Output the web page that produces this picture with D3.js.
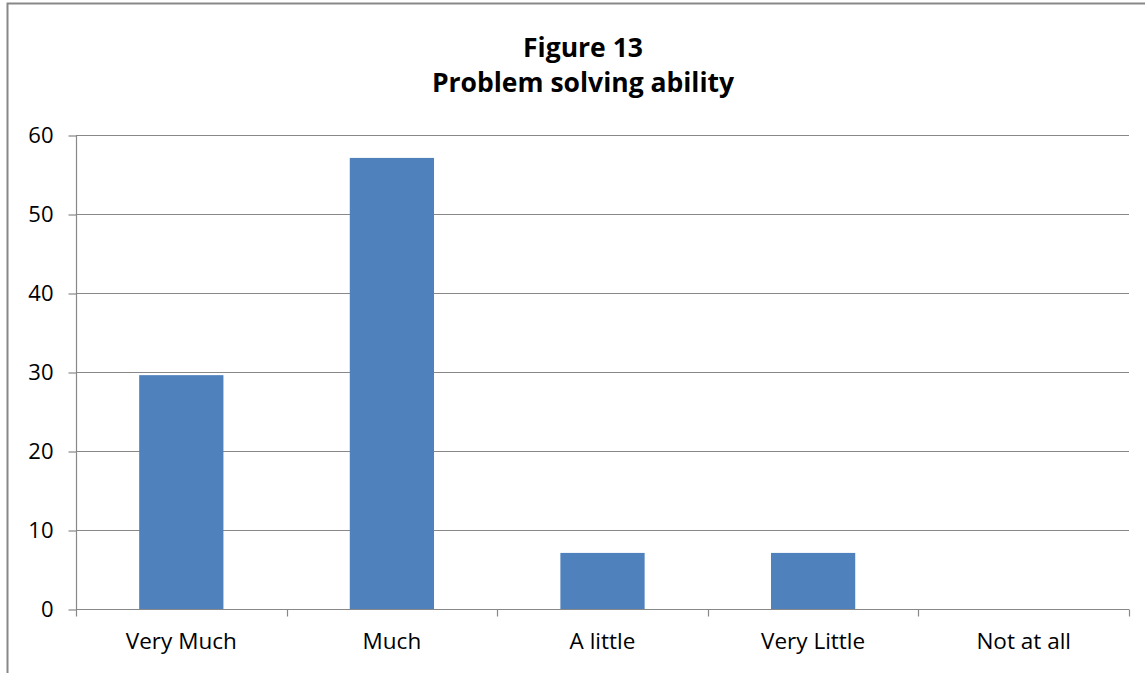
<!DOCTYPE html>
<html><head><meta charset="utf-8">
<script src="https://cdn.jsdelivr.net/npm/d3@7"></script>
<style>body{margin:0;background:#fff;} svg{display:block;}</style>
</head><body>
<svg id="c" width="1145" height="673"></svg>
<script>
const categories = ["Very Much", "Much", "A little", "Very Little", "Not at all"];
const values = [29.6, 57.1, 7.1, 7.1, 0];
const yTicks = [0, 10, 20, 30, 40, 50, 60];
const titleLines = ["Figure 13", "Problem solving ability"];

const svg = d3.select("#c");
const font = "'Open Sans', 'Liberation Sans', sans-serif";
const m = {left: 76, right: 1129, top: 135, bottom: 609};

// outer border
svg.append("path").attr("d", "M7.5,673 V3.5 H1145").attr("fill", "none").attr("stroke", "#888").attr("stroke-width", 2);

const x = d3.scaleBand().domain(categories).range([m.left, m.right]).padding(0);
const y = d3.scaleLinear().domain([0, 60]).range([m.bottom, m.top]);

// gridlines
svg.append("g").selectAll("line").data(yTicks.filter(d => d > 0)).join("line")
  .attr("x1", m.left).attr("x2", m.right)
  .attr("y1", d => Math.round(y(d)) + 0.5).attr("y2", d => Math.round(y(d)) + 0.5)
  .attr("stroke", "#888").attr("stroke-width", 1.2);

// bars
const bw = x.bandwidth() * 0.4;
svg.append("g").selectAll("rect").data(values).join("rect")
  .attr("x", (d, i) => x(categories[i]) + (x.bandwidth() - bw) / 2)
  .attr("width", bw)
  .attr("y", d => y(d))
  .attr("height", d => y(0) - y(d))
  .attr("fill", "#4F81BD");

// y axis
const ya = d3.axisLeft(y).tickValues(yTicks).tickSize(8).tickPadding(15);
const yg = svg.append("g").attr("transform", `translate(${m.left + 0.5},0.5)`).call(ya);
yg.selectAll("line, path").attr("stroke", "#888").attr("stroke-width", 1.2);
yg.selectAll("text").attr("font-family", font).attr("font-size", 22).attr("fill", "#000");
yg.select(".domain").attr("d", `M0,${m.top}V${m.bottom}`);

// x axis
const xa = d3.axisBottom(x).tickSize(0).tickPadding(24);
const xg = svg.append("g").attr("transform", `translate(0,${m.bottom + 0.5})`).call(xa);
xg.select(".domain").attr("d", `M${m.left},0H${m.right}`).attr("stroke", "#888").attr("stroke-width", 1.2);
xg.selectAll("text").attr("font-family", font).attr("font-size", 22.5).attr("fill", "#000");
// boundary tick marks
const bounds = categories.map(c => x(c)).concat([m.right]);
xg.selectAll("line.b").data(bounds).join("line").attr("class", "b")
  .attr("x1", d => Math.round(d) + 0.5).attr("x2", d => Math.round(d) + 0.5)
  .attr("y1", 0).attr("y2", 7).attr("stroke", "#888").attr("stroke-width", 1.2);

// title
svg.append("text").attr("x", 583).attr("y", 57).attr("text-anchor", "middle")
  .attr("font-family", font).attr("font-weight", "bold").attr("font-size", 26.5)
  .selectAll("tspan").data(titleLines).join("tspan")
  .attr("x", 583).attr("dy", (d, i) => i === 0 ? 0 : 35).text(d => d);
</script>
</body></html>
